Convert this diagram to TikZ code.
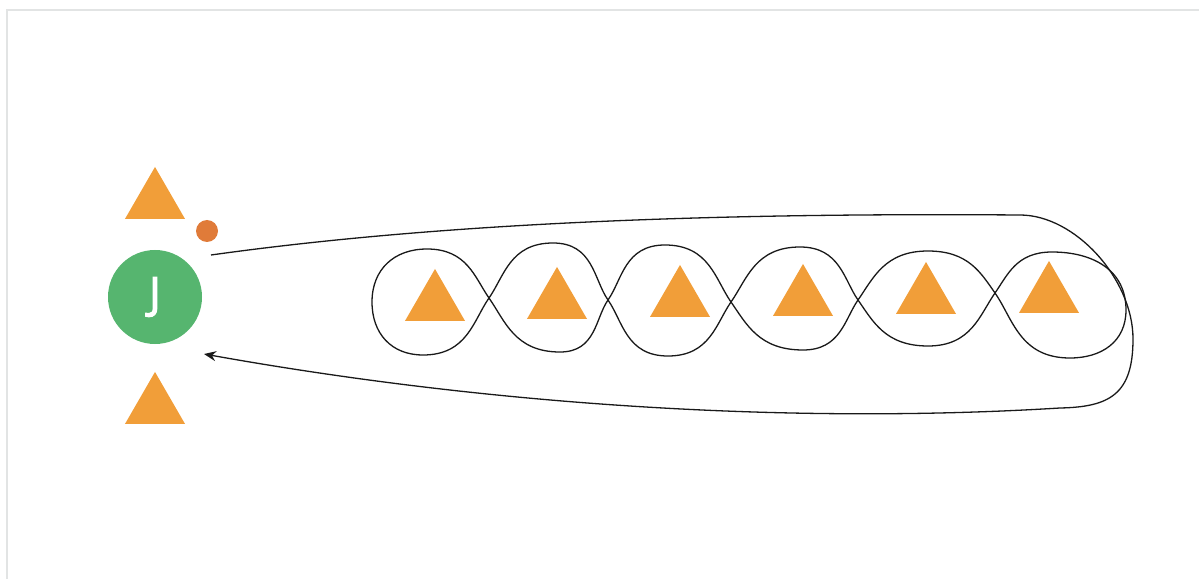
\documentclass[tikz,border=0pt]{standalone}
\usepackage{fontspec}
\setmainfont{Open Sans}
\newfontfamily\badgefont[FakeBold=2.5]{Open Sans}
\usepackage{tikz}
\usetikzlibrary{positioning, arrows.meta, shapes.geometric}
\definecolor{jgreen}{RGB}{86, 181, 111}
\definecolor{coinorange}{RGB}{241, 158, 57}
\definecolor{ember}{RGB}{224, 123, 57}
\definecolor{framegray}{RGB}{226, 228, 228}

\begin{document}
\begin{tikzpicture}[x=1pt, y=1pt,
    coin/.style={regular polygon, regular polygon sides=3, fill=coinorange, draw=none,
      inner sep=0pt, outer sep=0pt, minimum size=69.3pt},
    player/.style={circle, fill=jgreen, text=white, inner sep=0pt, minimum size=94pt,
      font=\badgefont\fontsize{44}{48}\selectfont},
    wire/.style={line width=1.3pt, black!90},
    tox/.style={out looseness=1.3, in looseness=0.8},
    fromx/.style={out looseness=0.8, in looseness=1.3}]
  \useasboundingbox (0,0) rectangle (1199,579);

  % Frame
  \draw[framegray, line width=2pt] (7,0) -- (7,569) -- (1199,569);

  % Player with its coins
  \node[player] (J) at (155,282) {J};
  \node[coin] (topcoin) at (155,377.4) {};
  \node[coin] (botcoin) at (155,172.4) {};
  \node[circle, fill=ember, inner sep=0pt, minimum size=22pt] (spark) at (207,348) {};

  % Coins in the chain
  \foreach \i/\x/\y in {1/435/275.4, 2/557/277.4, 3/680/279.4, 4/803/280.4, 5/926/282.4, 6/1049/283.4}
    \node[coin] (c\i) at (\x,\y) {};

  % Chain of loops
  \draw[wire, looseness=1.1] (372,277) to[out=90, in=180] (427,330)
    to[tox, out=0, in=125] (489,281) to[fromx, out=-55, in=180] (560,227)
    to[tox, out=0, in=-125] (608,279) to[fromx, out=55, in=180] (665,334)
    to[tox, out=0, in=125] (731,277) to[fromx, out=-55, in=180] (803,229)
    to[tox, out=0, in=-125] (858,279) to[fromx, out=55, in=180] (928,328)
    to[tox, out=0, in=125] (995,286) to[fromx, out=-55, in=180] (1070,221)
    to[out=0, in=-90] (1126,269) to[out=90, in=0] (1052,327)
    to[tox, out=180, in=55] (995,286) to[fromx, out=-125, in=0] (928,233)
    to[tox, out=180, in=-55] (858,279) to[fromx, out=125, in=0] (800,332)
    to[tox, out=180, in=55] (731,277) to[fromx, out=-125, in=0] (668,223)
    to[tox, out=180, in=-55] (608,279) to[fromx, out=125, in=0] (553,336)
    to[tox, out=180, in=55] (489,281) to[fromx, out=-125, in=0] (423,224)
    to[out=180, in=-90] cycle;

  % Big loop back to the player
  \coordinate (loopstart) at (211,324);
  \coordinate (loopend) at (204,225);
  \draw[wire, -{Stealth[length=12pt, width=10pt]}] (loopstart)
    .. controls (461,359) and (750,366) .. (1020,364)
    .. controls (1075,364) and (1133,300) .. (1133,240)
    .. controls (1133,185) and (1110,172) .. (1060,171)
    .. controls (800,155) and (500,172) .. (loopend);
\end{tikzpicture}
\end{document}
